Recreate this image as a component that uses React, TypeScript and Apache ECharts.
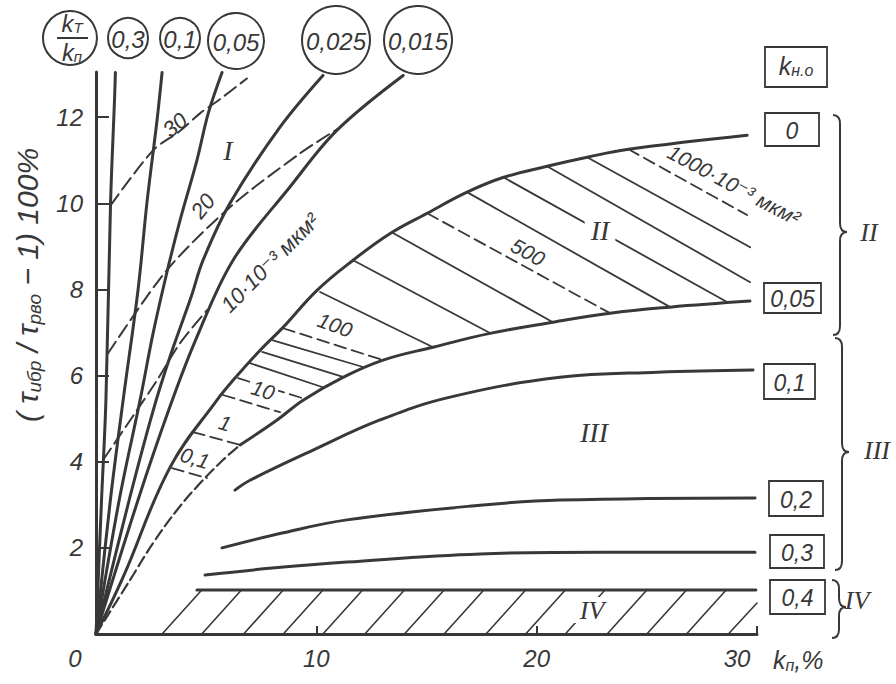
import React, { useEffect, useRef } from 'react';
import * as echarts from 'echarts';

const INK = '#383838';
const SANS = '"Liberation Sans", "DejaVu Sans", Arial, sans-serif';
const SERIF = '"Liberation Serif", "DejaVu Serif", serif';

// ---------- tick labels ----------
const yTickValues = [2, 4, 6, 8, 10, 12];
const xTickValues = [0, 10, 20, 30];

// ---------- fan curves k_T / k_n ----------
const fanLabels = ['0,3', '0,1', '0,05', '0,025', '0,015'];
const fan03 = [[0, 0], [0.25, 3.1], [0.45, 5.43], [0.66, 10], [0.84, 12.4], [0.88, 13.04]];
const fan01 = [[0, 0], [0.65, 3.1], [1.25, 5.5], [1.91, 8.0], [2.32, 10.05], [2.77, 11.93], [3.0, 13.04]];
const fan005 = [[0, 0], [1.05, 3.1], [2.0, 5.43], [2.59, 6.98], [3.22, 8.4], [3.81, 9.6], [4.58, 11.0], [5.1, 12.1], [5.72, 13.04]];
const fan0025 = [[0, 0], [1.5, 3.1], [2.6, 5.2], [3.4, 6.5], [4.3, 7.8], [4.86, 8.68], [6.08, 10.0], [8.35, 11.77], [10.3, 12.97]];
const fan0015 = [[0, 0], [1.9, 3.1], [3.3, 5.2], [4.5, 6.8], [6.22, 8.68], [8.8, 10.38], [10.94, 11.7], [13.94, 12.97]];

// ---------- dashed lines in region I ----------
const dash30 = [[0.66, 9.95], [2.59, 11.23], [3.81, 11.68], [4.72, 12.09], [5.63, 12.42], [6.85, 12.9]];
const dash20 = [[0.55, 6.52], [3.22, 8.45], [6.08, 9.91], [9.26, 11.16], [10.94, 11.72]];
const dash10 = [[0.32, 4.04], [1.77, 5.13], [2.77, 5.89], [3.81, 6.75], [5.04, 7.52]];

// ---------- k_n.o curves ----------
const kno0 = [[0, 0], [1.23, 1.32], [3.36, 3.87], [5.49, 5.43], [6.22, 5.89], [7.45, 6.59], [8.49, 7.12], [10.03, 7.98], [11.67, 8.68], [13.35, 9.3], [15.03, 9.77], [16.84, 10.26], [18.47, 10.6], [20.47, 10.86], [22.29, 11.07], [24.1, 11.25], [29.55, 11.58]];
const kno005Dashed = [[0, 0], [1.54, 1.25], [2.59, 2.11], [3.68, 2.88], [4.72, 3.5], [5.76, 4.04], [6.54, 4.39]];
const kno005 = [[6.54, 4.39], [8.22, 4.97], [9.4, 5.43], [11.21, 5.96], [13.03, 6.36], [15.3, 6.66], [17.88, 6.98], [20.74, 7.24], [23.33, 7.45], [26.05, 7.59], [29.68, 7.73]];
const kno01 = [[6.31, 3.34], [6.99, 3.57], [9.85, 4.27], [12.89, 4.97], [16.07, 5.5], [21.06, 5.96], [25.5, 6.08], [29.82, 6.13]];
const kno02 = [[5.72, 2.0], [8.5, 2.35], [11.39, 2.65], [17.43, 2.99], [21.06, 3.11], [29.91, 3.16]];
const kno03 = [[4.95, 1.37], [8.0, 1.53], [11.39, 1.67], [17.43, 1.86], [23.0, 1.9], [29.91, 1.9]];
const kno04 = [[4.58, 1.02], [29.95, 1.02]];
const knoLabels = ['0', '0,05', '0,1', '0,2', '0,3', '0,4'];

// ---------- permeability isolines in region II ----------
const isoSolid = [
  [[6.99, 6.29], [10.3, 5.73]],
  [[7.54, 6.55], [11.21, 5.97]],
  [[8.03, 6.82], [12.12, 6.2]],
  [[10.17, 7.94], [15.3, 6.66]],
  [[11.67, 8.68], [17.88, 6.99]],
  [[13.48, 9.31], [20.74, 7.24]],
  [[16.84, 10.26], [26.06, 7.59]],
  [[18.47, 10.61], [28.64, 7.71]],
  [[20.47, 10.86], [29.69, 8.17]],
  [[22.29, 11.07], [29.69, 8.98]],
];
const isoDashed = [
  [[3.45, 3.85], [5.04, 3.62]],
  [[4.4, 4.69], [6.54, 4.39]],
  [[5.76, 5.55], [8.35, 5.15]],
  [[6.45, 5.94], [9.35, 5.48]],
  [[8.49, 7.1], [13.03, 6.36]],
  [[15.03, 9.77], [23.33, 7.45]],
  [[24.15, 11.26], [29.55, 9.73]],
];

// ---------- hatching of region IV ----------
const hatchIV = [
  [[3.0, 0], [4.8, 1.02]], [[4.8, 0], [6.6, 1.02]], [[6.7, 0], [8.5, 1.02]],
  [[8.5, 0], [10.3, 1.02]], [[10.3, 0], [12.1, 1.02]], [[12.2, 0], [14.0, 1.02]],
  [[14.0, 0], [15.8, 1.02]], [[15.8, 0], [17.6, 1.02]], [[17.7, 0], [19.5, 1.02]],
  [[19.5, 0], [21.3, 1.02]], [[21.3, 0], [23.1, 1.02]], [[23.2, 0], [25.0, 1.02]],
  [[25.0, 0], [26.8, 1.02]], [[26.8, 0], [28.6, 1.02]], [[28.7, 0], [30.0, 0.72]],
];

// ---------- layout (pixels) ----------
const headerCircles = [
  { cx: 128, cy: 38, r: 20 },
  { cx: 180, cy: 38, r: 20 },
  { cx: 236, cy: 41, r: 28 },
  { cx: 336, cy: 40, r: 34 },
  { cx: 418, cy: 40, r: 34 },
];
const knoBoxes = [
  { x: 765, y: 113, w: 54, h: 33 },
  { x: 764, y: 283, w: 57, h: 30 },
  { x: 764, y: 364, w: 51, h: 35 },
  { x: 769, y: 481, w: 54, h: 35 },
  { x: 770, y: 535, w: 54, h: 33 },
  { x: 770, y: 580, w: 55, h: 34 },
];
const braces = [
  { x: 833, top: 115, mid: 232, bot: 335, label: 'II', lx: 869, ly: 232 },
  { x: 835, top: 338, mid: 452, bot: 570, label: 'III', lx: 877, ly: 450 },
  { x: 832, top: 580, mid: 607, bot: 638, label: 'IV', lx: 857, ly: 600 },
];

function lineSeries(data: number[][], width: number, type: any = 'solid', smooth: number | boolean = 0.3) {
  return {
    type: 'line',
    data,
    showSymbol: false,
    symbol: 'none',
    smooth,
    clip: false,
    silent: true,
    z: 3,
    lineStyle: { color: INK, width, type, cap: 'round' },
  };
}

function txt(x: number, y: number, text: string, size: number, o: any = {}) {
  return {
    type: 'text',
    x,
    y,
    rotation: o.rot || 0,
    z: 100,
    style: {
      text,
      fill: INK,
      fontSize: size,
      fontFamily: o.family || SANS,
      fontStyle: o.upright ? 'normal' : 'italic',
      align: o.align || 'center',
      verticalAlign: 'middle',
      backgroundColor: o.bg,
      padding: o.pad,
      rich: o.rich,
    },
  };
}

function bez(x1: number, y1: number, x2: number, y2: number, cx: number, cy: number) {
  return {
    type: 'bezierCurve',
    z: 100,
    shape: { x1, y1, x2, y2, cpx1: cx, cpy1: cy },
    style: { stroke: INK, lineWidth: 2, fill: null },
  };
}
function pl(points: number[][]) {
  return { type: 'polyline', z: 100, shape: { points }, style: { stroke: INK, lineWidth: 2, fill: null } };
}
function brace(x: number, top: number, mid: number, bot: number) {
  const s = x + 7, t = x + 14, r = 9;
  return [
    bez(x, top, s, top + r, s, top),
    pl([[s, top + r], [s, mid - r]]),
    bez(s, mid - r, t, mid, s, mid),
    bez(t, mid, s, mid + r, s, mid),
    pl([[s, mid + r], [s, bot - r]]),
    bez(s, bot - r, x, bot, s, bot),
  ];
}

const subRich = (main: number, sub: number, pad: number) => ({
  a: { fontSize: main, fontStyle: 'italic', fontFamily: SANS, fill: INK },
  b: { fontSize: sub, fontStyle: 'italic', fontFamily: SANS, fill: INK, verticalAlign: 'bottom', padding: [pad, 0, 0, 0] },
});

export default function App() {
  const ref = useRef<HTMLDivElement>(null);
  useEffect(() => {
    if (!ref.current) return;
    const chart = echarts.init(ref.current, null, { renderer: 'svg' });

    const series: any[] = [];
    [fan03, fan01, fan005, fan0025, fan0015].forEach((d) => series.push(lineSeries(d, 3, 'solid', 0.35)));
    series.push(lineSeries(dash30, 2, [14, 6]));
    series.push(lineSeries(dash20, 2, [14, 6]));
    series.push(lineSeries(dash10, 2, [14, 6]));
    series.push(lineSeries(kno0, 3, 'solid', 0.4));
    series.push(lineSeries(kno005Dashed, 2.2, [11, 5], 0.4));
    series.push(lineSeries(kno005, 3, 'solid', 0.4));
    series.push(lineSeries(kno01, 3, 'solid', 0.4));
    series.push(lineSeries(kno02, 3, 'solid', 0.4));
    series.push(lineSeries(kno03, 3, 'solid', 0.4));
    series.push(lineSeries(kno04, 3, 'solid', false));
    isoSolid.forEach((d) => series.push(lineSeries(d, 1.8, 'solid', false)));
    isoDashed.forEach((d) => series.push(lineSeries(d, 1.8, [12, 6], false)));
    hatchIV.forEach((d) => series.push(lineSeries(d, 1.6, 'solid', false)));

    const graphics: any[] = [];
    // header circles
    headerCircles.forEach((c, i) => {
      graphics.push({ type: 'circle', z: 100, shape: { cx: c.cx, cy: c.cy, r: c.r }, style: { fill: '#fff', stroke: INK, lineWidth: 2 } });
      graphics.push(txt(c.cx, c.cy + 1, fanLabels[i], 24));
    });
    // k_T / k_n circle
    graphics.push({ type: 'circle', z: 100, shape: { cx: 70, cy: 38, r: 27 }, style: { fill: '#fff', stroke: INK, lineWidth: 2 } });
    graphics.push(txt(72, 23, '{a|k}{b|T}', 24, { rich: subRich(24, 15, 8) }));
    graphics.push(pl([[57, 38], [88, 38]]));
    graphics.push(txt(72, 52, '{a|k}{b|п}', 24, { rich: subRich(24, 15, 8) }));

    // k_n.o header box
    graphics.push({ type: 'rect', z: 100, shape: { x: 765, y: 47, width: 62, height: 40 }, style: { fill: 'none', stroke: INK, lineWidth: 1.8 } });
    graphics.push(txt(796, 66, '{a|k}{b|н.о}', 24, { rich: subRich(25, 16, 9) }));
    knoBoxes.forEach((b, i) => {
      graphics.push({ type: 'rect', z: 100, shape: { x: b.x, y: b.y, width: b.w, height: b.h }, style: { fill: '#fff', stroke: INK, lineWidth: 1.8 } });
      graphics.push(txt(b.x + b.w / 2, b.y + b.h / 2 + 1, knoLabels[i], 23));
    });
    // braces
    braces.forEach((b) => {
      brace(b.x, b.top, b.mid, b.bot).forEach((g) => graphics.push(g));
      graphics.push(txt(b.lx, b.ly, b.label, 26, { family: SERIF }));
    });

    // axis titles
    graphics.push(txt(27, 285, '{m|( τ}{s|ибр}{m| / τ}{s|рво}{m| − 1) 100%}', 30, {
      rot: Math.PI / 2,
      rich: {
        m: { fontSize: 30, fontStyle: 'italic', fontFamily: SANS, fill: INK },
        s: { fontSize: 19, fontStyle: 'italic', fontFamily: SANS, fill: INK, verticalAlign: 'bottom', padding: [14, 0, 0, 0] },
      },
    }));
    graphics.push(txt(773, 660, '{a|k}{b|п}{a|,%}', 24, { align: 'left', rich: subRich(25, 16, 10) }));

    // region and isoline labels
    graphics.push(txt(228, 150, 'I', 28, { family: SERIF }));
    graphics.push(txt(600, 230, 'II', 28, { family: SERIF, bg: '#fff', pad: [0, 6] }));
    graphics.push(txt(594, 432, 'III', 28, { family: SERIF }));
    graphics.push(txt(592, 610, 'IV', 26, { family: SERIF, bg: '#fff', pad: [0, 6] }));
    graphics.push(txt(175, 125, '30', 22, { rot: 0.7 }));
    graphics.push(txt(203, 206, '20', 22, { rot: 0.9 }));
    graphics.push(txt(270, 263, '10·10⁻³ мкм²', 22, { rot: 0.79 }));
    graphics.push(txt(195, 458, '0,1', 21, { rot: -0.3 }));
    graphics.push(txt(225, 423, '1', 21, { rot: -0.3 }));
    graphics.push(txt(263, 390, '10', 21, { rot: -0.3, bg: '#fff', pad: [0, 3] }));
    graphics.push(txt(335, 325, '100', 21, { rot: -0.35 }));
    graphics.push(txt(528, 252, '500', 21, { rot: -0.5, bg: '#fff', pad: [0, 4] }));
    graphics.push(txt(734, 185, '1000·10⁻³ мкм²', 21, { rot: -0.49 }));

    chart.setOption({
      animation: false,
      backgroundColor: '#ffffff',
      grid: { left: 96, right: 139, top: 72, bottom: 50 },
      xAxis: {
        type: 'value',
        min: 0,
        max: 30,
        interval: 10,
        splitLine: { show: false },
        axisLine: { lineStyle: { color: INK, width: 3 } },
        axisTick: { inside: true, length: 8, lineStyle: { color: INK, width: 2 }, customValues: [10, 20, 30] },
        axisLabel: {
          customValues: xTickValues,
          margin: 12,
          color: INK,
          fontSize: 24,
          fontStyle: 'italic',
          fontFamily: SANS,
          formatter: (v: number) => (v === 0 ? '{l|0}' : v === 30 ? '{r|30}' : '{n|' + v + '}'),
          rich: {
            n: { fontSize: 24, fontStyle: 'italic', fontFamily: SANS, color: INK },
            l: { fontSize: 24, fontStyle: 'italic', fontFamily: SANS, color: INK, padding: [0, 42, 0, 0] },
            r: { fontSize: 24, fontStyle: 'italic', fontFamily: SANS, color: INK, padding: [0, 40, 0, 0] },
          },
        },
      },
      yAxis: {
        type: 'value',
        min: 0,
        max: 13.05,
        interval: 2,
        splitLine: { show: false },
        axisLine: { lineStyle: { color: INK, width: 3 } },
        axisTick: { inside: true, length: 13, lineStyle: { color: INK, width: 2 }, customValues: yTickValues },
        axisLabel: {
          customValues: yTickValues,
          margin: 13,
          color: INK,
          fontSize: 24,
          fontStyle: 'italic',
          fontFamily: SANS,
          formatter: (v: number) => (v % 2 === 0 && v > 0 ? String(v) : ''),
        },
      },
      series,
      graphic: { elements: graphics },
    });
    return () => chart.dispose();
  }, []);
  return <div ref={ref} style={{ position: 'absolute', left: 0, top: 0, width: 896, height: 684 }} />;
}
